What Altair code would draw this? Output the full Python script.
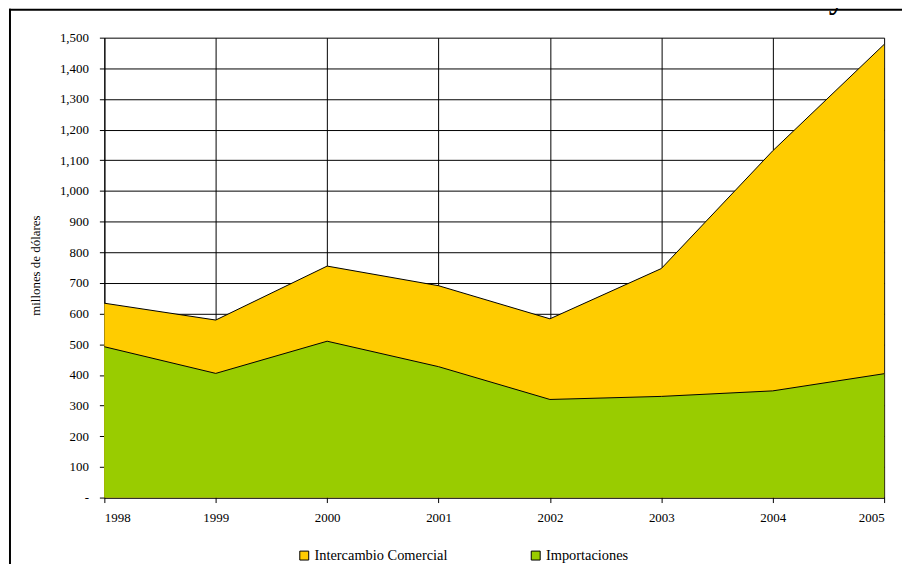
import altair as alt
import pandas as pd

years = [1998, 1999, 2000, 2001, 2002, 2003, 2004, 2005]
intercambio = [634, 579, 755, 691, 583, 747, 1131, 1478]
importaciones = [492, 405, 510, 427, 320, 330, 348, 404]
series_names = ["Intercambio Comercial", "Importaciones"]
series_colors = ["#FFCC00", "#99CC00"]
y_ticks = list(range(0, 1501, 100))
title_text = "Gráfico 1: Evolución del intercambio comercial entre Chile y Canadá"

rows = []
for yr, a, b in zip(years, intercambio, importaciones):
    rows.append({"year": yr, "value": a, "series": series_names[0]})
    rows.append({"year": yr, "value": b, "series": series_names[1]})
df = pd.DataFrame(rows)

FONT = "Liberation Serif, Times New Roman, serif"

x_enc = alt.X(
    "year:Q",
    scale=alt.Scale(domain=[1998, 2005], nice=False, zero=False),
    axis=alt.Axis(values=years, format="d", title=None, tickSize=5,
                  labelPadding=9, grid=True, labelOverlap=False),
)
y_enc = alt.Y(
    "value:Q",
    scale=alt.Scale(domain=[0, 1500], nice=False),
    axis=alt.Axis(values=y_ticks, title="millones de dólares",
                  labelExpr="datum.value == 0 ? '-' : format(datum.value, ',')",
                  tickSize=5, labelPadding=11, grid=True, labelOverlap=False,
                  titleX=-69, titleY=229, titleAngle=-90,
                  titleAlign="center", titleBaseline="middle"),
)
color_enc = alt.Color(
    "series:N",
    scale=alt.Scale(domain=series_names, range=series_colors),
    legend=alt.Legend(title=None, orient="none", legendX=194, legendY=514,
                      direction="horizontal", symbolType="square",
                      symbolSize=81, symbolStrokeColor="black",
                      symbolStrokeWidth=1, labelFont=FONT, labelFontSize=14.5,
                      labelColor="black", columnPadding=81, labelOffset=3),
)

base = alt.Chart(df)

area_top = base.transform_filter(
    alt.datum.series == series_names[0]
).mark_area(opacity=1).encode(x=x_enc, y=y_enc, color=color_enc)
line_top = base.transform_filter(
    alt.datum.series == series_names[0]
).mark_line(color="black", strokeWidth=1).encode(x=x_enc, y=y_enc)
area_imp = base.transform_filter(
    alt.datum.series == series_names[1]
).mark_area(opacity=1).encode(x=x_enc, y=y_enc, color=color_enc)
line_imp = base.transform_filter(
    alt.datum.series == series_names[1]
).mark_line(color="black", strokeWidth=1).encode(x=x_enc, y=y_enc)

one = pd.DataFrame({"t": [title_text]})
title_mark = alt.Chart(one).mark_text(
    align="left", baseline="alphabetic", font=FONT, fontWeight="bold",
    fontSize=32.5, color="black"
).encode(text="t:N", x=alt.value(-97), y=alt.value(-30))

frame_top = alt.Chart(one).mark_rule(color="black", strokeWidth=2).encode(
    x=alt.value(-96), x2=alt.value(830), y=alt.value(-28))
frame_left = alt.Chart(one).mark_rule(color="black", strokeWidth=2).encode(
    x=alt.value(-95), y=alt.value(-29), y2=alt.value(600))

chart = alt.layer(
    area_top, area_imp, line_top, line_imp, frame_top, frame_left, title_mark
).properties(
    width=785, height=463,
    autosize=alt.AutoSizeParams(type="none"),
    padding={"left": 97, "top": 28, "right": 18, "bottom": 65},
    background="white",
).configure_view(stroke=None).configure_axis(
    labelFont=FONT, labelFontSize=13, labelColor="black",
    titleFont=FONT, titleFontSize=13, titleColor="black", titleFontWeight="normal",
    domainColor="black", tickColor="black", gridColor="black",
    gridOpacity=1, gridWidth=1, domainWidth=1, tickWidth=1,
)

chart.save("out.html", embed_options={"renderer": "svg", "actions": False})
